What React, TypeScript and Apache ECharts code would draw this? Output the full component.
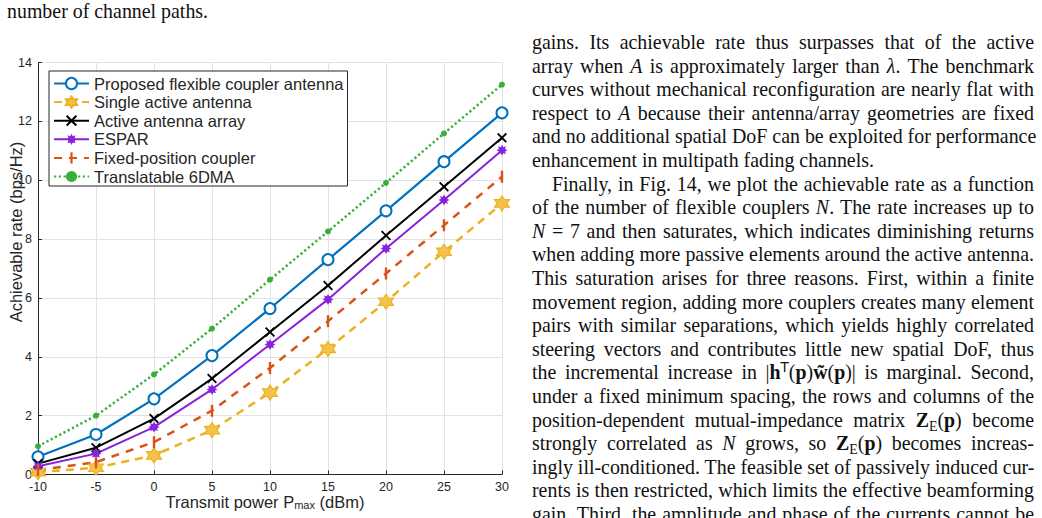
import React, { useEffect, useRef } from "react";
import * as echarts from "echarts";

// ---------- data ----------
const xValues = [-10, -5, 0, 5, 10, 15, 20, 25, 30];
const proposed = [0.6, 1.36, 2.57, 4.04, 5.64, 7.3, 8.96, 10.63, 12.29];
const singleActive = [0.08, 0.23, 0.65, 1.51, 2.78, 4.27, 5.87, 7.57, 9.21];
const activeArray = [0.37, 0.91, 1.9, 3.26, 4.84, 6.42, 8.12, 9.78, 11.44];
const espar = [0.28, 0.71, 1.61, 2.89, 4.42, 5.95, 7.68, 9.33, 11.02];
const fixedCoupler = [0.15, 0.42, 1.1, 2.17, 3.62, 5.21, 6.83, 8.47, 10.12];
const translatable = [0.96, 2.0, 3.4, 4.96, 6.62, 8.26, 9.91, 11.59, 13.25];
const seriesNames = [
  "Proposed flexible coupler antenna",
  "Single active antenna",
  "Active antenna array",
  "ESPAR",
  "Fixed-position coupler",
  "Translatable 6DMA",
];
const xTitle = ["Transmit power P", "max", " (dBm)"];
const yTitle = "Achievable rate (bps/Hz)";

const HEXAGRAM =
  "path://M0,-10 L2.887,-5 L8.66,-5 L5.774,0 L8.66,5 L2.887,5 L0,10 L-2.887,5 L-8.66,5 L-5.774,0 L-8.66,-5 L-2.887,-5 Z";
const CROSS =
  "path://M-5,-3.7 L-3.7,-5 L0,-1.3 L3.7,-5 L5,-3.7 L1.3,0 L5,3.7 L3.7,5 L0,1.3 L-3.7,5 L-5,3.7 L-1.3,0 Z";
const ASTER =
  "path://M0,-10 L2.3,-5.5 L7.07,-7.07 L5.5,-2.3 L10,0 L5.5,2.3 L7.07,7.07 L2.3,5.5 L0,10 L-2.3,5.5 L-7.07,7.07 L-5.5,2.3 L-10,0 L-5.5,-2.3 L-7.07,-7.07 L-2.3,-5.5 Z";
const VBAR = "path://M-1.2,-6 L1.2,-6 L1.2,6 L-1.2,6 Z M-6,-6 L-6,-6 Z M6,6 L6,6 Z";

const pairs = (ys: number[]) => xValues.map((x, i) => [x, ys[i]]);

const serif = '"Liberation Serif", "Times New Roman", serif';
const sans = "Liberation Sans, Arial, sans-serif";

const LH = 23.6;
const T0 = 31;
const FS = 19.9;
const B = (s: string) => <b>{s}</b>;
const supStyle: React.CSSProperties = {
  fontSize: "0.68em",
  fontFamily: "DejaVu Sans, sans-serif",
  verticalAlign: "baseline",
  position: "relative",
  top: "-0.55em",
  lineHeight: 0,
};
const subStyle: React.CSSProperties = {
  fontSize: "0.7em",
  verticalAlign: "baseline",
  position: "relative",
  top: "0.3em",
  lineHeight: 0,
};

const rightLines: React.ReactNode[] = [
  <>gains. Its achievable rate thus surpasses that of the active</>,
  <>array when <i>A</i> is approximately larger than <i>λ</i>. The benchmark</>,
  <>curves without mechanical reconfiguration are nearly flat with</>,
  <>respect to <i>A</i> because their antenna/array geometries are fixed</>,
  <>and no additional spatial DoF can be exploited for performance</>,
  <>enhancement in multipath fading channels.</>,
  <>Finally, in Fig. 14, we plot the achievable rate as a function</>,
  <>of the number of flexible couplers <i>N</i>. The rate increases up to</>,
  <><i>N</i>&nbsp;=&nbsp;7 and then saturates, which indicates diminishing returns</>,
  <>when adding more passive elements around the active antenna.</>,
  <>This saturation arises for three reasons. First, within a finite</>,
  <>movement region, adding more couplers creates many element</>,
  <>pairs with similar separations, which yields highly correlated</>,
  <>steering vectors and contributes little new spatial DoF, thus</>,
  <>the incremental increase in |{B("h")}<span style={supStyle}>T</span>({B("p")}){B("w̃")}({B("p")})| is marginal. Second,</>,
  <>under a fixed minimum spacing, the rows and columns of the</>,
  <>position-dependent mutual-impedance matrix {B("Z")}<span style={subStyle}>E</span>({B("p")}) become</>,
  <>strongly correlated as <i>N</i> grows, so {B("Z")}<span style={subStyle}>E</span>({B("p")}) becomes increas-</>,
  <>ingly ill-conditioned. The feasible set of passively induced cur-</>,
  <>rents is then restricted, which limits the effective beamforming</>,
  <>gain. Third, the amplitude and phase of the currents cannot be</>,
];
const noJustify = new Set([5]);
const indented = new Set([6]);

function Chart() {
  const ref = useRef<HTMLDivElement>(null);
  useEffect(() => {
    if (!ref.current) return;
    const chart = echarts.init(ref.current, null, { renderer: "svg" });
    const axisColor = "#262626";
    const gridColor = "#e2e2e2";
    chart.setOption({
      animation: false,
      backgroundColor: "transparent",
      grid: { left: 38, top: 62.5, width: 464, height: 412, containLabel: false },
      xAxis: {
        type: "value",
        min: -10,
        max: 30,
        interval: 5,
        axisLine: { show: true, onZero: false, lineStyle: { color: axisColor, width: 1 } },
        axisTick: { show: true, inside: true, length: 4, lineStyle: { color: axisColor } },
        axisLabel: { color: axisColor, fontSize: 12.5, margin: 6, fontFamily: sans },
        splitLine: { show: true, lineStyle: { color: gridColor, width: 1 } },
      },
      yAxis: {
        type: "value",
        min: 0,
        max: 14,
        interval: 2,
        axisLine: { show: true, onZero: false, lineStyle: { color: axisColor, width: 1 } },
        axisTick: { show: true, inside: true, length: 4, lineStyle: { color: axisColor } },
        axisLabel: { color: axisColor, fontSize: 12.5, margin: 6, fontFamily: sans },
        splitLine: { show: true, lineStyle: { color: gridColor, width: 1 } },
      },
      legend: {
        orient: "vertical",
        left: 49,
        top: 71,
        backgroundColor: "#fff",
        borderColor: "#262626",
        borderWidth: 1,
        borderRadius: 0,
        padding: [4, 4, 1, 4],
        itemWidth: 35,
        itemHeight: 14,
        itemGap: 1.6,
        align: "left",
        textStyle: { fontSize: 16.5, color: "#262626", fontFamily: sans },
        data: seriesNames,
      },
      graphic: [
        {
          type: "text",
          x: 265,
          y: 502,
          style: {
            text: `{a|${xTitle[0]}}{s|${xTitle[1]}}{a|${xTitle[2]}}`,
            rich: {
              a: { fontSize: 16.5, fill: axisColor, fontFamily: sans, verticalAlign: "bottom" },
              s: { fontSize: 11, fill: axisColor, fontFamily: sans, verticalAlign: "bottom" },
            },
            align: "center",
            verticalAlign: "middle",
          },
        },
        {
          type: "text",
          x: 16,
          y: 232,
          rotation: Math.PI / 2,
          style: {
            text: yTitle,
            fontSize: 16.5,
            fill: axisColor,
            fontFamily: sans,
            align: "center",
            verticalAlign: "middle",
          },
        },
      ],
      series: [
        {
          name: seriesNames[0],
          type: "line",
          data: pairs(proposed),
          symbol: "emptyCircle",
          symbolSize: 11,
          color: "#0072BD",
          lineStyle: { width: 2.2, color: "#0072BD" },
          itemStyle: { color: "#0072BD", borderColor: "#0072BD", borderWidth: 2.4 },
        },
        {
          name: seriesNames[1],
          type: "line",
          data: pairs(singleActive),
          symbol: HEXAGRAM,
          symbolSize: 15,
          color: "#EDB120",
          lineStyle: { width: 2.5, color: "#EDB120", type: [8, 6] },
          itemStyle: { color: "#F4C24A", borderColor: "#EDB120", borderWidth: 1.2 },
        },
        {
          name: seriesNames[2],
          type: "line",
          data: pairs(activeArray),
          symbol: CROSS,
          symbolSize: 10,
          color: "#000000",
          lineStyle: { width: 2, color: "#000000" },
          itemStyle: { color: "#000000", borderWidth: 0 },
        },
        {
          name: seriesNames[3],
          type: "line",
          data: pairs(espar),
          symbol: ASTER,
          symbolSize: 11,
          color: "#8A22DD",
          lineStyle: { width: 2, color: "#8A22DD" },
          itemStyle: { color: "#8A22DD", borderWidth: 0 },
        },
        {
          name: seriesNames[4],
          type: "line",
          data: pairs(fixedCoupler),
          symbol: VBAR,
          symbolSize: 12,
          color: "#D95319",
          lineStyle: { width: 2.5, color: "#D95319", type: [8, 7] },
          itemStyle: { color: "#D95319", borderWidth: 0 },
        },
        {
          name: seriesNames[5],
          type: "line",
          data: pairs(translatable),
          symbol: "circle",
          symbolSize: 6,
          color: "#3AAE3A",
          lineStyle: { width: 2.5, color: "#3AAE3A", type: [2.2, 2.6] },
          itemStyle: { color: "#3AAE3A", borderWidth: 0 },
        },
      ],
    });
    return () => chart.dispose();
  }, []);
  return <div ref={ref} style={{ position: "absolute", left: 0, top: 0, width: 520, height: 518 }} />;
}

export default function App() {
  return (
    <div
      style={{
        position: "fixed",
        left: 0,
        top: 0,
        width: 1042,
        height: 518,
        overflow: "hidden",
        background: "#fff",
        color: "#111",
      }}
    >
      <div
        style={{
          position: "absolute",
          left: 7,
          top: 0,
          fontFamily: serif,
          fontSize: FS,
          lineHeight: `${LH}px`,
          whiteSpace: "nowrap",
        }}
      >
        number of channel paths.
      </div>
      <Chart />
      {rightLines.map((c, i) => (
        <div
          key={i}
          style={{
            position: "absolute",
            left: indented.has(i) ? 552 : 532,
            top: T0 + i * LH,
            width: indented.has(i) ? 482 : 502,
            fontFamily: serif,
            fontSize: FS,
            lineHeight: `${LH}px`,
            height: LH,
            whiteSpace: "nowrap",
            textAlign: noJustify.has(i) ? "left" : "justify",
            textAlignLast: noJustify.has(i) ? "left" : "justify",
          }}
        >
          {c}
        </div>
      ))}
    </div>
  );
}
